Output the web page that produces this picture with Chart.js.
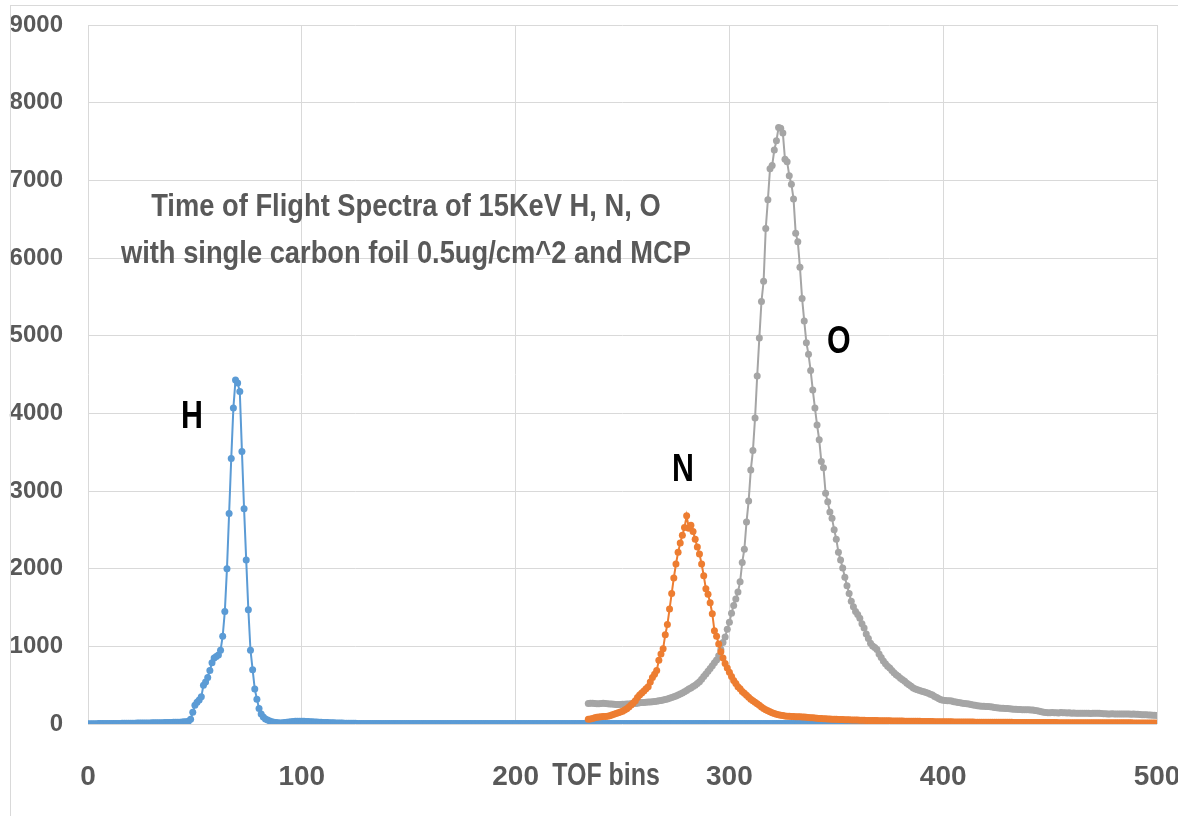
<!DOCTYPE html>
<html><head><meta charset="utf-8">
<script src="https://cdn.jsdelivr.net/npm/chart.js@4.4.1/dist/chart.umd.min.js"></script>
<style>html,body{margin:0;padding:0;background:#fff;}#wrap{width:1178px;height:816px;position:relative;}</style>
</head><body><div id="wrap"><canvas id="c" width="1178" height="816"></canvas></div>
<script>
// ---------- data ----------
const hStart = 0;
const hCounts = [
2,3,3,4,4,5,5,5,6,6, 7,7,7,8,8,8,9,9,10,10, 10,11,11,12,12,12,13,13,14,14, 15,15,16,16,17,17,18,19,19,20,
21,22,23,24,26,28,30,36,
60,150,240,280,310,350,500,540,600,690, 790,850,870,890,950,1130,1450,2000,2710,3420,
4070,4430,4390,4280,3510,2770,2110,1470,950,700, 450,320,200,130,90,65,50,40,30,22,
18,15,14,15,18,22,26,30,33,35, 36,36,35,34,33,31,30,28,26,25, 23,22,20,19,18,17,16,15,14,13,
12,12,11,10,10,9,9,9,8,8,
8,7,8,7,7,8,7,7,7,6, 7,7,6,7,6,6,7,6,6,6, 6,7,6,6,6,5,6,6,6,5, 6,5,6,5,5,6,5,5,5,6,
5,5,5,6,5,5,5,5,6,5, 5,5,5,5,6,5,5,5,5,5, 5,6,5,5,5,5,5,6,5,5, 5,5,5,5,5,6,5,5,5,5,
5,5,6,5,5,5,5,5,5,5, 6,5,5,5,5,5,5,6,5,5, 5,5,5,5,5,6,5,5,5,5, 5,5,6,5,5,5,5,5,5,6,
5,5,5,5,5,5,6,5,5,5, 5,5,5,5,6,5,5,5,5,5, 5,6,5,5,5,5,5,5,6,5, 5,5,5,5,5,6,5,5,5,5,
5,5,6,5,5,5,5,5,5,5, 6,5,5,5,5,5,5,6,5,5, 5,5,5,5,6,5,5,5,5,5, 5,6,5,5,5,5,5,5,6,5,
5,5,5,5,5,6,5,5,5,5, 5,5,6,5,5,5,5,5,5,5, 6,5,5,5,5,5,5,6,5,5, 5,5,5,5,6,5,5,5,5,5,
5,6,5,5,5,5,5,5,6,5, 5,5,5,5,5,6,5,5,5,5, 5,5,6,5,5,5,5,5,5,5, 6,5,5,5,5,5,5,6,5,5,
5,5,5,5,6,5,5,5,5,5, 5,6,5,5,5,5,5,5,6,5, 5,5,5,5,5,6,5,5,5,5, 5,5,6,5,5,5,5,5,5,5,
6,5,5,5,5,5,5,6,5,5, 5,5,5,5,6,5,5,5,5,5, 5,6,5,5,5,5,5,5,6,5, 5,5,5,5,5,6,5,5,5,5,
5,5,6,5,5,5,5,5,5,5, 6,5,5
];
const nStart = 234;
const nCounts = [
60,65,72,80,86,90,92,95,98,100, 105,115,125,135,145,155,165,180,195,220,
245,270,300,340,375,400,425,455,480,540, 600,640,690,820,900,970,1150,1280,1480,1680,
1880,2060,2210,2330,2430,2530,2680,2520,2560,2480, 2380,2280,2190,2060,1910,1740,1670,1560,1420,1200,
1130,1030,930,850,780,720,665,610,560,520, 480,455,420,395,370,345,320,300,280,260,
240,220,200,185,170,158,145,135,125,118, 112,108,104,101,99,97,95,94,93,92,
91,90,88,85,82,80,78,75,72,70, 68,67,65,64,62,61,60,59,58,57,
56,55,54,53,52,51,50,49,48,47, 46,46,45,45,44,44,43,43,42,42,
41,41,40,40,39,39,38,38,37,37, 36,36,35,35,34,34,33,33,32,32,
31,31,30,30,30,29,29,29,28,28, 28,27,27,27,26,26,26,25,25,25,
25,24,24,24,24,23,23,23,23,22, 22,22,22,22,21,21,21,21,21,20,
20,20,20,20,20,19,19,19,19,19, 19,19,18,18,18,18,18,18,18,18,
17,17,17,17,17,17,17,17,17,17, 16,16,16,16,16,16,16,16,16,16,
16,15,15,15,15,15,15,15,15,15, 15,15,15,15,15,14,14,14,14,14,
14,14,14,14,14,14,14
];
const oStart = 234;
const oCounts = [
265,268,266,264,262,262,264,266,265,262, 258,256,254,252,250,252,253,254,256,258,
260,262,265,268,272,276,278,280,282,284, 287,290,294,298,302,308,315,322,330,340,
350,360,372,385,400,415,432,450,465,482, 500,520,545,575,610,645,680,715,750,790,
825,880,960,1050,1120,1220,1310,1425,1525,1610, 1700,1830,2080,2250,2600,2870,3270,3520,3940,4480,
4970,5440,5700,6380,6750,7150,7190,7390,7510,7680, 7670,7610,7270,7240,7060,6950,6760,6320,6210,5880,
5480,5190,4910,4760,4550,4300,4070,3850,3660,3380, 3300,2970,2860,2730,2650,2500,2380,2210,2110,2010,
1890,1780,1680,1580,1510,1450,1410,1360,1290,1235, 1160,1100,1040,1005,985,960,900,855,810,775,
745,720,690,660,635,615,590,570,550,525, 505,485,465,450,440,430,422,416,405,395,
384,373,355,340,325,312,305,302,300,300, 295,288,282,276,272,268,264,260,257,252,
246,240,236,232,230,228,226,224,223,218, 214,210,206,203,202,200,198,195,193,190,
189,188,186,185,184,183,182,181,180,175, 170,165,158,152,148,146,145,148,144,146,
143,147,145,145,142,144,140,141,139,138, 140,138,137,139,138,136,138,139,137,138,
134,133,131,130,129,131,129,128,130,129, 129,128,130,129,127,129,126,124,122,120,
119,118,116,115,114,112,110
];
const xTicks = [0,100,200,300,400,500];
const yTicks = [0,1000,2000,3000,4000,5000,6000,7000,8000,9000];
const seriesNames = ['H','N','O'];
const seriesColors = ['#5B9BD5','#ED7D31','#A5A5A5'];
const titleLines = ['Time of Flight Spectra of 15KeV H, N, O','with single carbon foil 0.5ug/cm^2 and MCP'];
const titleAnchor = {x: 148.7, y1: 6656, y2: 6051};
const peakLabels = [{t:'H', x:48.6, y:3940},{t:'N', x:278.3, y:3270},{t:'O', x:351.2, y:4918}];
const axisTitle = {t:'TOF bins', x:242.3};

// ---------- build ----------
function toPts(start, arr){ return arr.map((v,i)=>({x:start+i, y:v})); }
const FONT = '"Liberation Sans", Arial, sans-serif';
const sets = [[hStart,hCounts],[nStart,nCounts],[oStart,oCounts]].map((s,i)=>({
  label: seriesNames[i],
  data: toPts(s[0], s[1]),
  borderColor: seriesColors[i],
  backgroundColor: seriesColors[i],
  pointBackgroundColor: seriesColors[i],
  pointBorderWidth: 0,
  pointRadius: 3.5,
  borderWidth: 2,
  tension: 0,
  order: [3,1,2][i]
}));

function narrowText(ctx, text, x, y, sx){
  ctx.save(); ctx.translate(x, y); ctx.scale(sx, 1); ctx.fillText(text, 0, 0); ctx.restore();
}

const annot = {
  id:'annot',
  afterDraw(chart){
    const ctx = chart.ctx, xs = chart.scales.x, ys = chart.scales.y;
    ctx.save();
    ctx.strokeStyle = '#d9d9d9'; ctx.lineWidth = 1;
    ctx.strokeRect(10.5, 5.5, 1400, 1000);
    ctx.textAlign = 'center'; ctx.textBaseline = 'middle';
    ctx.fillStyle = '#595959';
    ctx.font = 'bold 31px ' + FONT;
    const sx = 570 / ctx.measureText(titleLines[1]).width;
    narrowText(ctx, titleLines[0], xs.getPixelForValue(titleAnchor.x), ys.getPixelForValue(titleAnchor.y1), sx);
    narrowText(ctx, titleLines[1], xs.getPixelForValue(titleAnchor.x), ys.getPixelForValue(titleAnchor.y2), sx);
    ctx.fillStyle = '#000';
    ctx.font = 'bold 38px ' + FONT;
    peakLabels.forEach(p=>narrowText(ctx, p.t, xs.getPixelForValue(p.x), ys.getPixelForValue(p.y), 0.8));
    ctx.fillStyle = '#595959';
    ctx.font = 'bold 32px ' + FONT;
    narrowText(ctx, axisTitle.t, xs.getPixelForValue(axisTitle.x), chart.chartArea.bottom + 52, 0.78);
    ctx.restore();
  }
};

new Chart(document.getElementById('c'), {
  type: 'line',
  data: { datasets: sets },
  options: {
    responsive: false, animation: false, devicePixelRatio: 1,
    layout: { padding: { left: 0, right: 21, top: 25, bottom: 0 } },
    plugins: { legend: { display: false }, tooltip: { enabled: false } },
    scales: {
      x: {
        type: 'linear', min: 0, max: 500,
        afterBuildTicks: s => { s.ticks = xTicks.map(v=>({value:v})); },
        afterFit: s => { s.height = 92; s.paddingLeft = 0; s.paddingRight = 0; },
        grid: { color: '#d9d9d9', lineWidth: 1, drawTicks: false },
        border: { display: false },
        ticks: { color: '#595959', padding: 36, callback: v => String(v), font: { family: FONT, size: 28, weight: 'bold' } }
      },
      y: {
        min: 0, max: 9000,
        afterBuildTicks: s => { s.ticks = yTicks.map(v=>({value:v})); },
        afterFit: s => { s.width = 88; s.paddingTop = 0; s.paddingBottom = 0; },
        grid: { color: '#d9d9d9', lineWidth: 1, drawTicks: false },
        border: { display: false },
        ticks: { color: '#595959', padding: 25, callback: v => String(v), font: { family: FONT, size: 24, weight: 'bold' } }
      }
    }
  },
  plugins: [annot]
});
</script></body></html>
